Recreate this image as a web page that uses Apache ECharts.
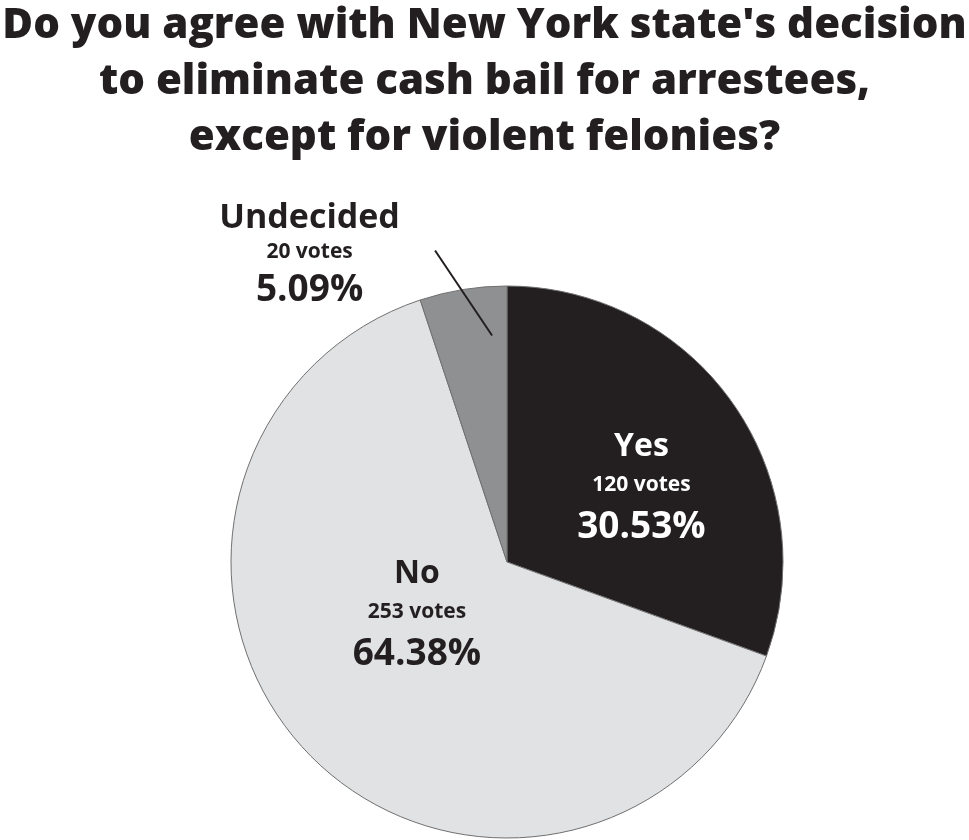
<!DOCTYPE html>
<html>
<head>
<meta charset="utf-8">
<script src="https://cdn.jsdelivr.net/npm/echarts@6/dist/echarts.min.js"></script>
<style>
  html, body { margin: 0; padding: 0; background: #fff; }
  #chart { width: 969px; height: 840px; }
</style>
</head>
<body>
<div id="chart"></div>
<script>
const titleText = "Do you agree with New York state's decision\nto eliminate cash bail for arrestees,\nexcept for violent felonies?";
const categories = ['Yes', 'No', 'Undecided'];
const votes = [120, 253, 20];
const sliceColors = ['#231f20', '#e1e2e3', '#8f9091'];

// label nudges (label placement only)
const labelShift = {
  Yes: [19, 8],
  No: [11, -44],
  Undecided: [-55, -12]
};

const chart = echarts.init(document.getElementById('chart'));
const font = '"Open Sans", sans-serif';

const richFor = (color, big) => ({
  name: { fontFamily: font, fontWeight: 'bold', fontSize: big ? 34 : 32, color: color, lineHeight: big ? 34 : 38, align: 'center' },
  votes: { fontFamily: font, fontWeight: 'bold', fontSize: 21, color: color, lineHeight: big ? 32 : 38, align: 'center' },
  pct: { fontFamily: font, fontWeight: 'bold', fontSize: 37, color: color, lineHeight: 46, align: 'center' }
});

// slices
const sliceData = categories.map((name, i) => ({
  name: name,
  value: votes[i],
  itemStyle: { color: sliceColors[i] }
}));

// same values again, invisible sectors, so labels and the leader line sit on top of the slices
const labelData = categories.map((name, i) => {
  const item = {
    name: name,
    value: votes[i],
    label: { rich: richFor(i === 0 ? '#ffffff' : '#231f20', name === 'Undecided') }
  };
  if (name === 'Undecided') {
    item.label.position = 'outside';
    item.labelLine = { show: true, length: 20, length2: 0, lineStyle: { color: '#231f20', width: 2 } };
  }
  return item;
});

const pieBase = {
  type: 'pie',
  center: [507, 562],
  radius: 276,
  startAngle: 90,
  clockwise: true,
  silent: true
};

const option = {
  backgroundColor: '#ffffff',
  animation: false,
  title: {
    text: titleText,
    left: 'center',
    top: -7,
    textStyle: {
      fontFamily: font,
      fontWeight: 800,
      fontSize: 42,
      lineHeight: 56,
      color: '#231f20'
    }
  },
  series: [
    Object.assign({}, pieBase, {
      z: 2,
      itemStyle: { borderColor: '#707070', borderWidth: 1 },
      label: { show: false },
      labelLine: { show: false },
      data: sliceData
    }),
    Object.assign({}, pieBase, {
      z: 5,
      itemStyle: { color: 'rgba(0,0,0,0)', borderWidth: 0 },
      label: {
        show: true,
        position: 'inside',
        formatter: '{name|{b}}\n{votes|{c} votes}\n{pct|{d}%}'
      },
      labelLine: { show: false },
      labelLayout: function (params) {
        const name = categories[params.dataIndex];
        const s = labelShift[name];
        const out = { dx: s[0], dy: s[1] };
        if (name === 'Undecided' && params.labelLinePoints) {
          // straight leader: from inside the slice, across the rim, up-left toward the label
          const a = params.labelLinePoints[0];
          out.labelLinePoints = [[a[0] + 29, a[1] + 46], [a[0] - 28, a[1] - 39]];
        }
        return out;
      },
      data: labelData
    })
  ]
};

chart.setOption(option);
</script>
</body>
</html>
